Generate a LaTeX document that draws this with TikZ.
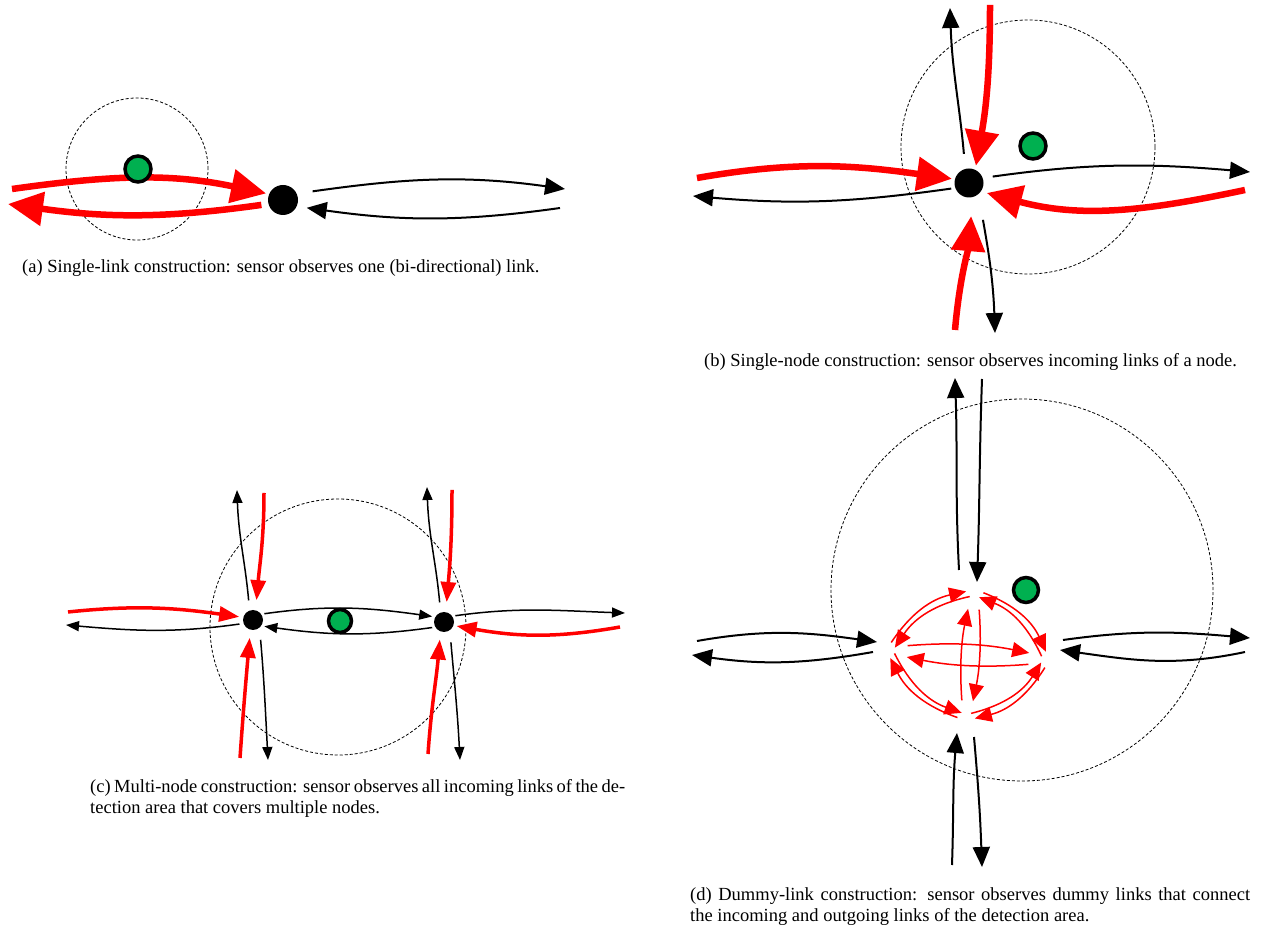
\documentclass[tikz,border=0pt]{standalone}
\usepackage{fontspec}
\setmainfont{Liberation Serif}
\usetikzlibrary{arrows.meta}
\definecolor{sensorgreen}{RGB}{0,176,80}
\begin{document}
\begin{tikzpicture}[x=1pt,y=1pt,
    dot/.style={circle,fill=black,inner sep=0pt},
    hub/.style={circle,inner sep=0pt,minimum size=18pt},
    sensor/.style={circle,fill=sensorgreen,draw=black,line width=3.5pt,inner sep=0pt,minimum size=26pt},
    area/.style={draw,line width=0.8pt,dash pattern=on 3pt off 2pt},
    bigred/.style={red,line width=6.5pt,-{Triangle[length=35pt,width=33pt]}},
    bigblack/.style={black,line width=2pt,-{Triangle[length=20pt,width=17pt]}},
    midred/.style={red,line width=3.5pt,-{Triangle[length=20pt,width=15pt]}},
    midblack/.style={black,line width=1.5pt,-{Triangle[length=13pt,width=10pt]}},
    dummy/.style={red,line width=1.5pt,-{Triangle[length=17pt,width=15pt]}},
    caption/.style={inner sep=0pt,anchor=base west,font=\fontsize{18.5}{21}\selectfont}]
  \useasboundingbox (0,0) rectangle (1267,930);
  \foreach \cx/\cy/\r in {137/761/71,1028/783/127,338/303/128,1022/340/191}
    \draw[area] (\cx,\cy) circle (\r);

  \node[dot,minimum size=30pt] (a-n) at (283,730) {};
  \coordinate (a-w1) at (12,741);
  \coordinate (a-w2) at (8,726);
  \coordinate (a-e1) at (565,741);
  \coordinate (a-e2) at (560,722);
  \draw[bigred,shorten >=3pt] (a-w1) to[out=8,in=168] (a-n.157);
  \draw[bigred,shorten <=7pt] (a-n.195) to[out=188,in=-8] (a-w2);
  \draw[bigblack,shorten <=16pt] (a-n.25) to[out=8,in=172] (a-e1);
  \draw[bigblack,shorten >=10pt] (a-e2) to[out=188,in=-8] (a-n.-25);
  \node[sensor] (a-s) at (138,761) {};
  \node[caption] (cap-a) at (22,657) {(a) Single-link construction: sensor observes one (bi-directional) link.};

  \node[dot,minimum size=29pt] (b-n) at (969,747) {};
  \coordinate (b-w1) at (697,752);
  \coordinate (b-w2) at (693,734);
  \coordinate (b-e1) at (1250,758);
  \coordinate (b-e2) at (1245,740);
  \coordinate (b-n1) at (950,922);
  \coordinate (b-n2) at (990,925);
  \coordinate (b-s1) at (955,600);
  \coordinate (b-s2) at (995,597);
  \draw[bigred,shorten >=3pt] (b-w1) to[out=10,in=172] (b-n.165);
  \draw[bigblack,shorten <=4pt] (b-n.200) to[out=188,in=-5] (b-w2);
  \draw[bigblack,shorten <=10pt] (b-n.20) to[out=8,in=175] (b-e1);
  \draw[bigred,shorten >=6pt] (b-e2) to[out=192,in=-15] (b-n.-35);
  \draw[bigblack,shorten <=15pt] (b-n.105) to[out=95,in=-88] (b-n1);
  \draw[bigred,shorten >=4pt] (b-n2) to[out=-90,in=80] (b-n.65);
  \draw[bigred,shorten >=19pt] (b-s1) to[out=85,in=-95] (b-n.-75);
  \draw[bigblack,shorten <=26pt] (b-n.-50) to[out=-80,in=92] (b-s2);
  \node[sensor] (b-s) at (1033,784) {};
  \node[caption] (cap-b) at (704,563) {(b) Single-node construction: sensor observes incoming links of a node.};

  \node[dot,minimum size=20pt] (c1) at (253,310) {};
  \node[dot,minimum size=20pt] (c2) at (444,308) {};
  \coordinate (c-w1) at (68,318);
  \coordinate (c-w2) at (66,305);
  \coordinate (c-e1) at (625,317);
  \coordinate (c-e2) at (620,303);
  \coordinate (c-n1) at (237,440);
  \coordinate (c-n2) at (264,437);
  \coordinate (c-s1) at (240,172);
  \coordinate (c-s2) at (268,170);
  \coordinate (c-n3) at (427,443);
  \coordinate (c-n4) at (452,440);
  \coordinate (c-s3) at (428,176);
  \coordinate (c-s4) at (460,170);
  \draw[midred,shorten >=4pt] (c-w1) to[out=6,in=172] (c1.165);
  \draw[midblack,shorten <=4pt] (c1.200) to[out=188,in=-5] (c-w2);
  \draw[midblack,shorten <=3pt,shorten >=3pt] (c1.35) to[out=8,in=172] (c2.150);
  \draw[midblack,shorten <=3pt,shorten >=3pt] (c2.210) to[out=188,in=-8] (c1.-35);
  \draw[midblack,shorten <=3pt] (c2.35) to[out=8,in=178] (c-e1);
  \draw[midred,shorten >=3pt] (c-e2) to[out=190,in=-10] (c2.-20);
  \draw[midblack,shorten <=10pt] (c1.110) to[out=95,in=-88] (c-n1);
  \draw[midred,shorten >=10pt] (c-n2) to[out=-90,in=85] (c1.75);
  \draw[midred,shorten >=8pt] (c-s1) to[out=86,in=-95] (c1.-105);
  \draw[midblack,shorten <=12pt] (c1.-50) to[out=-85,in=93] (c-s2);
  \draw[midblack,shorten <=10pt] (c2.110) to[out=95,in=-88] (c-n3);
  \draw[midred,shorten >=10pt] (c-n4) to[out=-90,in=85] (c2.80);
  \draw[midred,shorten >=8pt] (c-s3) to[out=86,in=-95] (c2.-110);
  \draw[midblack,shorten <=12pt] (c2.-55) to[out=-85,in=93] (c-s4);
  \node[sensor,minimum size=23pt] (c-s) at (340,309) {};
  \node[caption] (cap-c1) at (90,138) {\makebox[535pt][s]{(c) Multi-node construction: sensor observes all incoming links of the de-}};
  \node[caption] (cap-c2) at (90,117) {tection area that covers multiple nodes.};

  \node[hub] (d-t) at (975,341) {};
  \node[hub] (d-l) at (886,280) {};
  \node[hub] (d-r) at (1050,270) {};
  \node[hub] (d-b) at (966,209) {};
  \draw[dummy] (d-l.55) to[bend left=22] (d-t.195);
  \draw[dummy] (d-t.235) to[bend right=22] (d-l.15);
  \draw[dummy] (d-t.-24) to[bend left=22] (d-r.116);
  \draw[dummy] (d-r.156) to[bend right=22] (d-t.-64);
  \draw[dummy] (d-b.158) to[bend left=22] (d-l.-62);
  \draw[dummy] (d-l.-22) to[bend right=22] (d-b.118);
  \draw[dummy] (d-r.236) to[bend left=22] (d-b.16);
  \draw[dummy] (d-b.56) to[bend right=22] (d-r.196);
  \draw[dummy,shorten <=13pt,shorten >=13pt] (d-l.21) to[bend left=8] (d-r.151);
  \draw[dummy,shorten <=13pt,shorten >=13pt] (d-r.201) to[bend left=8] (d-l.-29);
  \draw[dummy,shorten <=12pt,shorten >=12pt] (d-t.-69) to[bend left=8] (d-b.61);
  \draw[dummy,shorten <=12pt,shorten >=12pt] (d-b.111) to[bend left=8] (d-t.241);
  \coordinate (d-t1) at ([shift={(-16,19)}]d-t);
  \coordinate (d-t2) at ([shift={(2,7)}]d-t);
  \coordinate (d-l1) at ([shift={(-9,8)}]d-l);
  \coordinate (d-l2) at ([shift={(-13,-2)}]d-l);
  \coordinate (d-r1) at ([shift={(13,20)}]d-r);
  \coordinate (d-r2) at ([shift={(10,10)}]d-r);
  \coordinate (d-b1) at ([shift={(-9,-12)}]d-b);
  \coordinate (d-b2) at ([shift={(8,-16)}]d-b);
  \coordinate (d-n1) at (955,552);
  \coordinate (d-n2) at (982,551);
  \coordinate (d-w1) at (697,289);
  \coordinate (d-w2) at (692,275);
  \coordinate (d-e1) at (1250,292);
  \coordinate (d-e2) at (1245,278);
  \coordinate (d-s1) at (952,65);
  \coordinate (d-s2) at (982,63);
  \draw[bigblack] (d-t1) to[out=93,in=-88] (d-n1);
  \draw[bigblack] (d-n2) to[out=-92,in=88] (d-t2);
  \draw[bigblack] (d-w1) to[out=10,in=172] (d-l1);
  \draw[bigblack] (d-l2) to[out=190,in=-8] (d-w2);
  \draw[bigblack] (d-r1) to[out=8,in=175] (d-e1);
  \draw[bigblack] (d-e2) to[out=192,in=-8] (d-r2);
  \draw[bigblack] (d-s1) to[out=88,in=-95] (d-b1);
  \draw[bigblack] (d-b2) to[out=-85,in=92] (d-s2);
  \node[sensor,minimum size=25pt] (d-s) at (1026,340) {};
  \node[caption] (cap-d1) at (690,30) {\makebox[560pt][s]{(d) Dummy-link construction: sensor observes dummy links that connect}};
  \node[caption] (cap-d2) at (690,9) {the incoming and outgoing links of the detection area.};
\end{tikzpicture}
\end{document}
